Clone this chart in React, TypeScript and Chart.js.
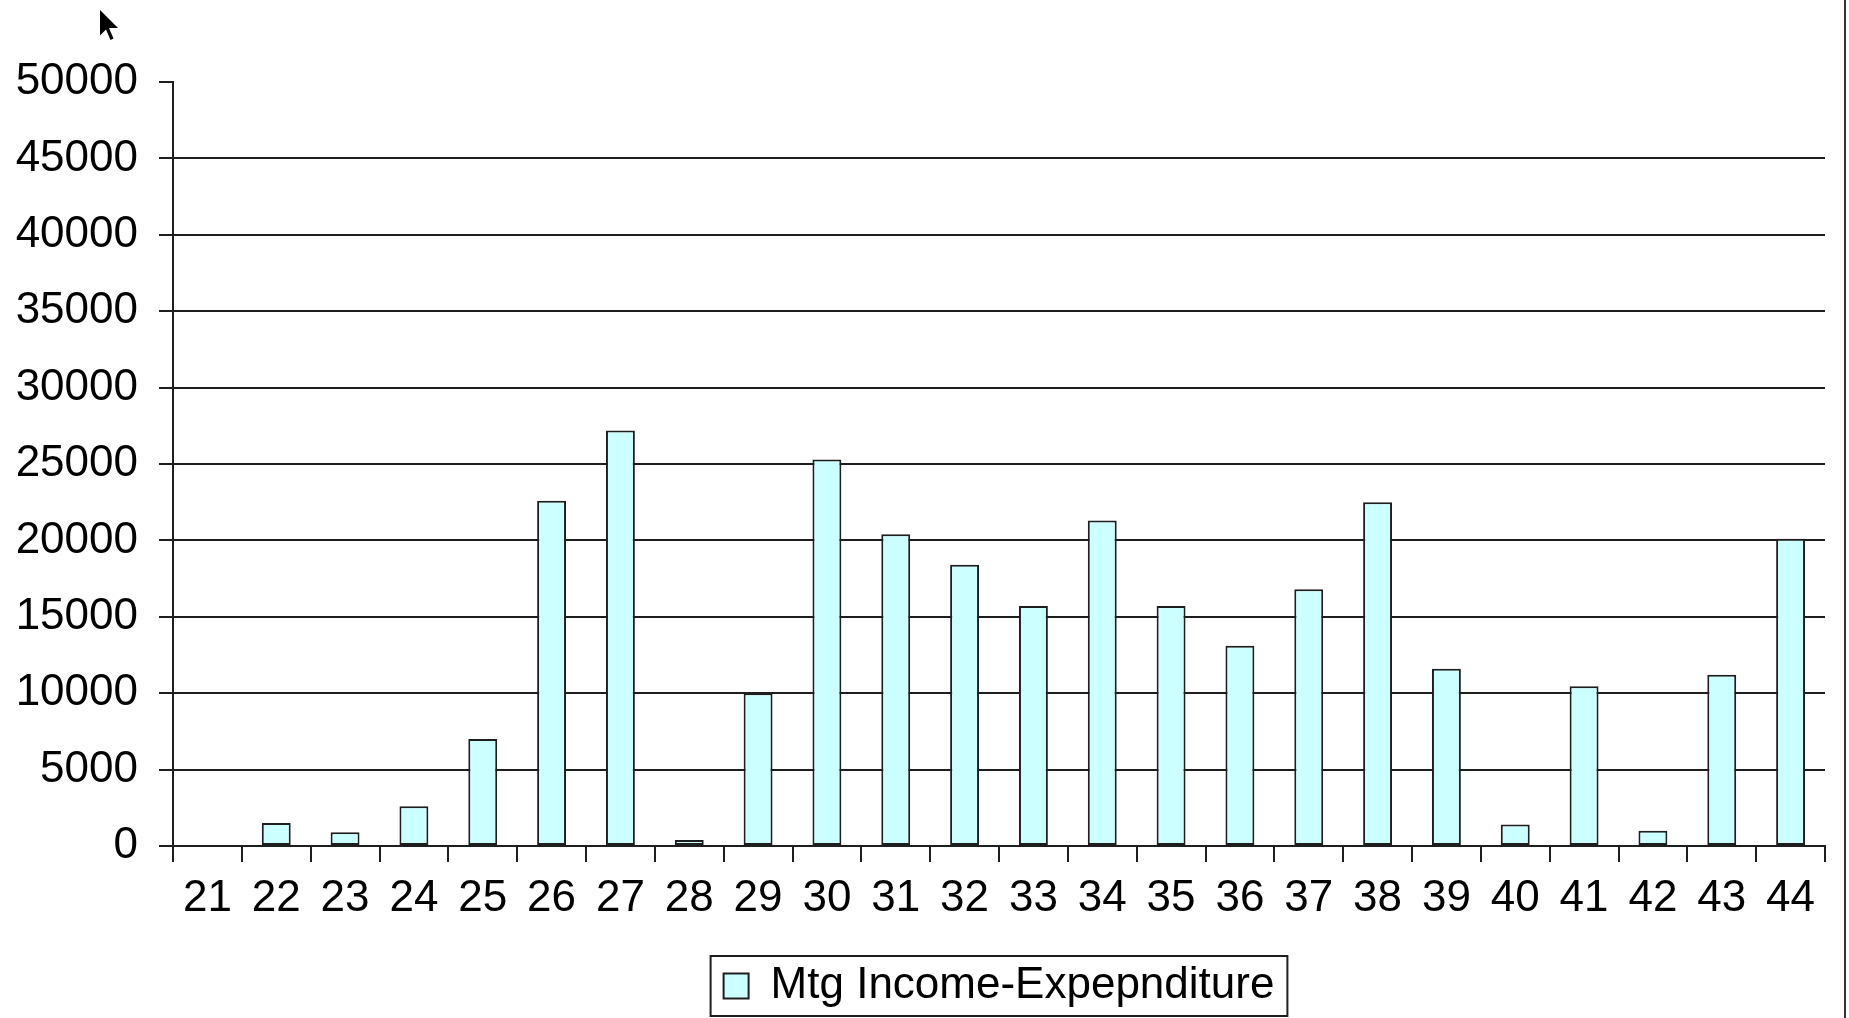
import React, { useEffect, useRef } from 'react';
import { Chart, registerables } from 'chart.js';

Chart.register(...registerables);

const categories = ['21', '22', '23', '24', '25', '26', '27', '28', '29', '30', '31', '32', '33', '34', '35', '36', '37', '38', '39', '40', '41', '42', '43', '44'];
const incomeExpenditure = [0, 1500, 900, 2600, 7000, 22600, 27200, 400, 10000, 25300, 20400, 18400, 15700, 21300, 15700, 13100, 16800, 22500, 11600, 1400, 10450, 1000, 11200, 20100];
const seriesLabel = 'Mtg Income-Expepnditure';
const yMin = 0;
const yMax = 50000;
const yStep = 5000;

const FONT = '"Liberation Sans", Arial, sans-serif';
const INK = '#1e1e1e';

const framePlugin = {
  id: 'frameDecor',
  afterLayout(chart: any) {
    // centre the legend under the plot area, as in the original
    const lg = chart.legend;
    const ca = chart.chartArea;
    if (lg && ca) {
      lg.left = ca.left;
      lg.right = ca.right;
      lg.width = ca.right - ca.left;
    }
  },
  afterDraw(chart: any) {
    const ctx = chart.ctx;
    ctx.save();
    const lg = chart.legend;
    if (lg && lg.legendHitBoxes && lg.legendHitBoxes.length) {
      const hb = lg.legendHitBoxes[0];
      const cy = hb.top + hb.height / 2;
      ctx.strokeStyle = INK;
      ctx.lineWidth = 2;
      ctx.strokeRect(hb.left - 13, cy - 30, hb.width + 26, 60);
    }
    ctx.strokeStyle = '#333';
    ctx.lineWidth = 2;
    ctx.beginPath();
    ctx.moveTo(1845, 0);
    ctx.lineTo(1845, chart.height);
    ctx.stroke();
    const tx = 100, ty = 10, k = 1.5;
    const pts = [[0, 0], [0, 17], [4, 13], [7, 20], [9, 19], [6, 12], [12, 12]];
    ctx.fillStyle = '#000';
    ctx.beginPath();
    pts.forEach((p, i) => {
      const x = tx + p[0] * k;
      const y = ty + p[1] * k;
      if (i === 0) ctx.moveTo(x, y); else ctx.lineTo(x, y);
    });
    ctx.closePath();
    ctx.fill();
    ctx.restore();
  },
};

export default function App() {
  const ref = useRef<HTMLCanvasElement | null>(null);

  useEffect(() => {
    if (!ref.current) return;
    const chart = new Chart(ref.current, {
      type: 'bar',
      data: {
        labels: categories,
        datasets: [
          {
            label: seriesLabel,
            data: incomeExpenditure,
            backgroundColor: '#CCFFFF',
            borderColor: INK,
            borderWidth: 2,
            borderSkipped: false,
            barPercentage: 0.42,
            categoryPercentage: 1.0,
          },
        ],
      },
      options: {
        responsive: false,
        animation: false,
        layout: { padding: { top: 82, left: 0, right: 24, bottom: 0 } },
        plugins: {
          tooltip: { enabled: false },
          legend: {
            display: true,
            position: 'bottom',
            labels: {
              boxWidth: 25,
              boxHeight: 25,
              padding: 2,
              color: '#000',
              font: { family: FONT, size: 44 },
            },
          },
        },
        scales: {
          x: {
            offset: true,
            grid: {
              offset: true,
              drawOnChartArea: false,
              drawTicks: true,
              tickLength: 16,
              color: INK,
              tickColor: INK,
              lineWidth: 2,
            },
            border: { display: true, color: INK, width: 2 },
            ticks: {
              font: { family: FONT, size: 44 },
              color: '#000',
              padding: 10,
              maxRotation: 0,
              autoSkip: false,
            },
            afterFit: (s: any) => {
              s.height = 116;
            },
          },
          y: {
            min: yMin,
            max: yMax,
            ticks: {
              stepSize: yStep,
              font: { family: FONT, size: 44 },
              color: '#000',
              padding: 21,
              callback: (v: any) => String(v),
            },
            grid: {
              color: (c: any) => (c.tick && c.tick.value === yMax ? 'rgba(0,0,0,0)' : INK),
              tickColor: INK,
              lineWidth: 2,
              tickLength: 14,
            },
            border: { display: true, color: INK, width: 2 },
            afterFit: (s: any) => {
              s.width = 173;
            },
          },
        },
      },
      plugins: [framePlugin],
    });
    return () => chart.destroy();
  }, []);

  return (
    <div style={{ position: 'absolute', left: 0, top: 0, width: 1849, height: 1018, background: '#fff' }}>
      <canvas ref={ref} width={1849} height={1018} style={{ display: 'block' }} />
    </div>
  );
}
